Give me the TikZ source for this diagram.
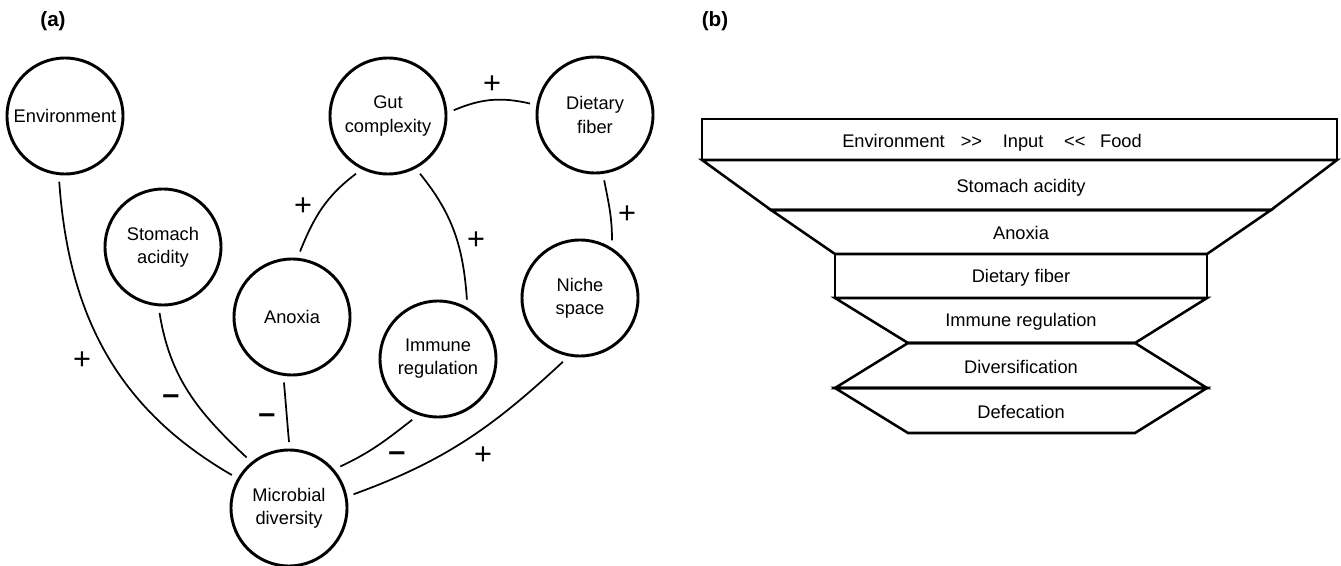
\documentclass[tikz,border=0pt]{standalone}
\usepackage{fontspec}
\setmainfont{Liberation Sans}
\begin{document}
\begin{tikzpicture}[x=0.75pt,y=-0.75pt,
  circ/.style={circle, draw, line width=2.2pt, minimum size=87pt, inner sep=0pt, outer sep=6pt, align=center, font=\fontsize{13.7}{17.3}\selectfont},
  link/.style={line width=1.3pt},
  sign/.style={inner sep=0pt, anchor=base, font=\fontsize{23}{23}\selectfont},
  plus/.style={sign, yshift=-7.9pt},
  minus/.style={sign, yshift=-6.4pt, font=\fontsize{23}{23}\selectfont\bfseries},
  lvl/.style={draw, line width=1.9pt, line join=miter},
  lbl/.style={inner sep=0pt, font=\fontsize{13.7}{16}\selectfont},
  panel/.style={inner sep=0pt, font=\fontsize{15.5}{18}\selectfont\bfseries}]
\useasboundingbox (0,0) rectangle (1341,566);

% ---------- panel (a) ----------
\node[panel] (pa) at (53,21) {(a)};
\node[circ] (env)   at (65,116)  {Environment};
\node[circ] (stom)  at (163,247) {Stomach\\acidity};
\node[circ] (gut)   at (388,116) {Gut\\complexity};
\node[circ] (diet)  at (595,115) {Dietary\\fiber};
\node[circ] (anox)  at (292,317) {Anoxia};
\node[circ] (imm)   at (438,359) {Immune\\regulation};
\node[circ] (niche) at (580,298) {Niche\\space};
\node[circ] (micro) at (289,508) {Microbial\\diversity};

\draw[link] (env.-95)   to[out=-86,in=150]  (micro.150);
\draw[link] (stom.-93)  to[out=-81,in=137]  (micro.130);
\draw[link] (anox.-97)  to[out=-85,in=95]   (micro.90);
\draw[link] (imm.-113)  to[out=-142,in=25]  (micro.39);
\draw[link] (niche.-105) to[out=-137,in=20] (micro.12);
\draw[link] (gut.-119)  to[out=-143,in=68]  (anox.83);
\draw[link] (gut.-61)   to[out=-51,in=94]   (imm.64);
\draw[link] (gut.5)     to[out=23,in=167]   (diet.170);
\draw[link] (diet.-82)  to[out=-79,in=90]   (niche.61);

\node[plus]  (s1) at (82,359)  {+};
\node[minus] (s2) at (171,396) {–};
\node[minus] (s3) at (267,415) {–};
\node[minus] (s4) at (397,453) {–};
\node[plus]  (s5) at (483,454) {+};
\node[plus]  (s6) at (303,205) {+};
\node[plus]  (s7) at (476,239) {+};
\node[plus]  (s8) at (492,83)  {+};
\node[plus]  (s9) at (627,213) {+};

% ---------- panel (b) ----------
\node[panel] (pb) at (715,21) {(b)};
\draw[lvl] (702,119) rectangle (1337,160);
\draw[lvl] (702,160) -- (1337,160) -- (1271,210) -- (771,210) -- cycle;
\draw[lvl] (771,210) -- (1271,210) -- (1207,254) -- (835,254) -- cycle;
\draw[lvl] (835,254) rectangle (1207,298);
\draw[lvl] (835,298) -- (1207,298) -- (1135,343) -- (908,343) -- cycle;
\draw[lvl] (908,343) -- (1135,343) -- (1207,388) -- (835,388) -- cycle;
\draw[lvl] (835,388) -- (1207,388) -- (1135,433) -- (908,433) -- cycle;

\node[lbl] (b1) at (992,143) {Environment\hspace{12pt}>\kern0pt>\hspace{15.5pt}Input\hspace{15.5pt}<\kern0pt<\hspace{11pt}Food};
\node[lbl] (b2) at (1021,188) {Stomach acidity};
\node[lbl] (b3) at (1021,233) {Anoxia};
\node[lbl] (b4) at (1021,278) {Dietary fiber};
\node[lbl] (b5) at (1021,322) {Immune regulation};
\node[lbl] (b6) at (1021,367) {Diversification};
\node[lbl] (b7) at (1021,412) {Defecation};
\end{tikzpicture}
\end{document}
